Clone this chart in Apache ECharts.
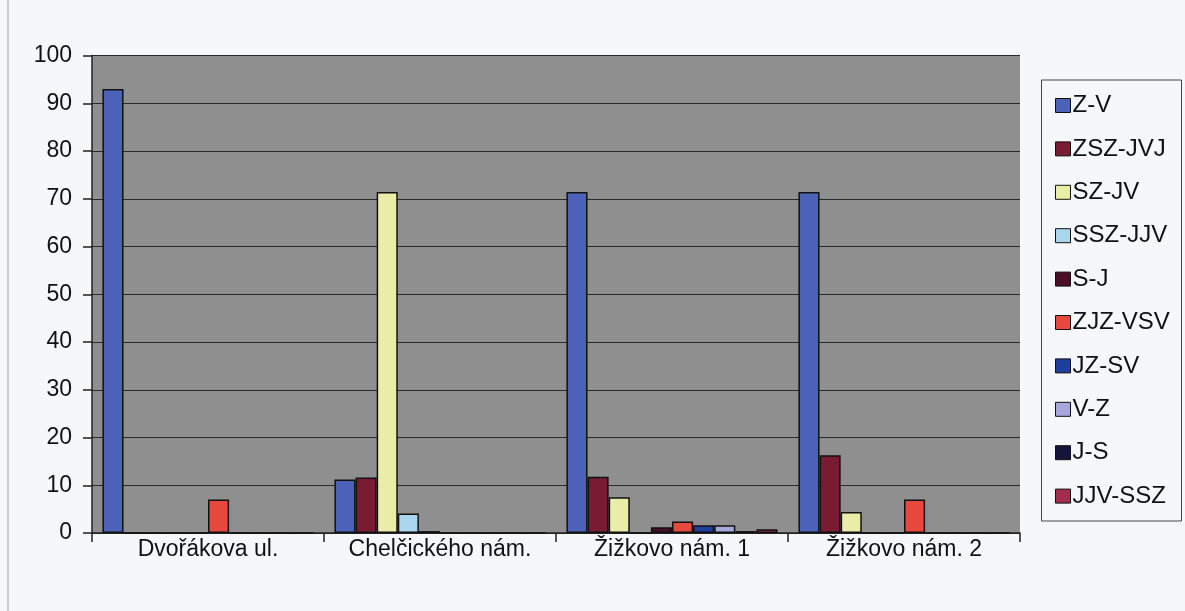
<!DOCTYPE html>
<html><head><meta charset="utf-8">
<script src="https://cdn.jsdelivr.net/npm/echarts@6/dist/echarts.min.js"></script>
<style>html,body{margin:0;padding:0;background:#f6f7f9;}#c{width:1185px;height:611px;}</style>
</head><body><div id="c"></div>
<script>
const categories = ['Dvořákova ul.', 'Chelčického nám.', 'Žižkovo nám. 1', 'Žižkovo nám. 2'];
const seriesNames = ['Z-V','ZSZ-JVJ','SZ-JV','SSZ-JJV','S-J','ZJZ-VSV','JZ-SV','V-Z','J-S','JJV-SSZ'];
const zv      = [93, 11.2, 71.4, 71.4];
const zszjvj  = [0, 11.6, 11.8, 16.3];
const szjv    = [0, 71.4, 7.5, 4.4];
const sszjjv  = [0, 4.1, 0, 0];
const sj      = [0, 0.4, 1.2, 0];
const zjzvsv  = [7, 0, 2.4, 7];
const jzsv    = [0, 0, 1.6, 0];
const vz      = [0, 0, 1.6, 0];
const js      = [0, 0, 0.4, 0];
const jjvssz  = [0, 0, 0.8, 0];
const yTicks  = [0,10,20,30,40,50,60,70,80,90,100];
const colors = ['#4b62b8','#7a1b33','#e9eda8','#a9d5ee','#4a0f25','#e8493e','#1e3f9e','#a6a8dc','#15153c','#a42d4f'];
const allData = [zv, zszjvj, szjv, sszjjv, sj, zjzvsv, jzsv, vz, js, jjvssz];

const chart = echarts.init(document.getElementById('c'));
const font = 'Liberation Sans, Arial, sans-serif';
chart.setOption({
  backgroundColor: '#f6f7f9',
  animation: false,
  color: colors,
  grid: {left: 92, right: 165, top: 55.5, bottom: 78, show: true, backgroundColor: '#8f8f8f', borderWidth: 0},
  legend: {
    orient: 'vertical', left: 1050, top: 88.5, itemGap: 19.4, itemWidth: 15, itemHeight: 14,
    icon: 'rect',
    itemStyle: {borderColor: '#111', borderWidth: 1},
    textStyle: {fontFamily: font, fontSize: 24, lineHeight: 24, color: '#111', padding: [0,0,0,-3]},
    data: seriesNames
  },
  xAxis: {
    type: 'category', data: categories,
    axisLine: {lineStyle: {color: '#222', width: 1.5}},
    axisTick: {show: true, interval: 0, length: 9, lineStyle: {color: '#222', width: 1.5}},
    axisLabel: {interval: 0, fontFamily: font, fontSize: 23, color: '#111', margin: 5}
  },
  yAxis: {
    type: 'value', min: 0, max: 100, interval: 10,
    axisLine: {show: true, lineStyle: {color: '#222', width: 1.5}},
    axisTick: {show: true, length: 9, lineStyle: {color: '#222', width: 1.5}},
    axisLabel: {fontFamily: font, fontSize: 23, color: '#111', margin: 20,
      formatter: v => yTicks.includes(v) ? String(v) : ''},
    splitLine: {lineStyle: {color: '#2a2a2a', width: 1}}
  },
  graphic: [
    {type: 'line', shape: {x1: 8, y1: 0, x2: 8, y2: 611}, style: {stroke: '#b9bcc2', lineWidth: 1.5}},
    {type: 'rect', shape: {x: 1041.5, y: 80, width: 140, height: 441}, style: {fill: 'none', stroke: '#444', lineWidth: 1}}
  ],
  series: seriesNames.map((n, i) => ({
    name: n, type: 'bar', data: allData[i],
    barGap: '0%', barCategoryGap: '9%',
    itemStyle: {borderColor: '#111', borderWidth: 1.5}
  }))
});
</script></body></html>
